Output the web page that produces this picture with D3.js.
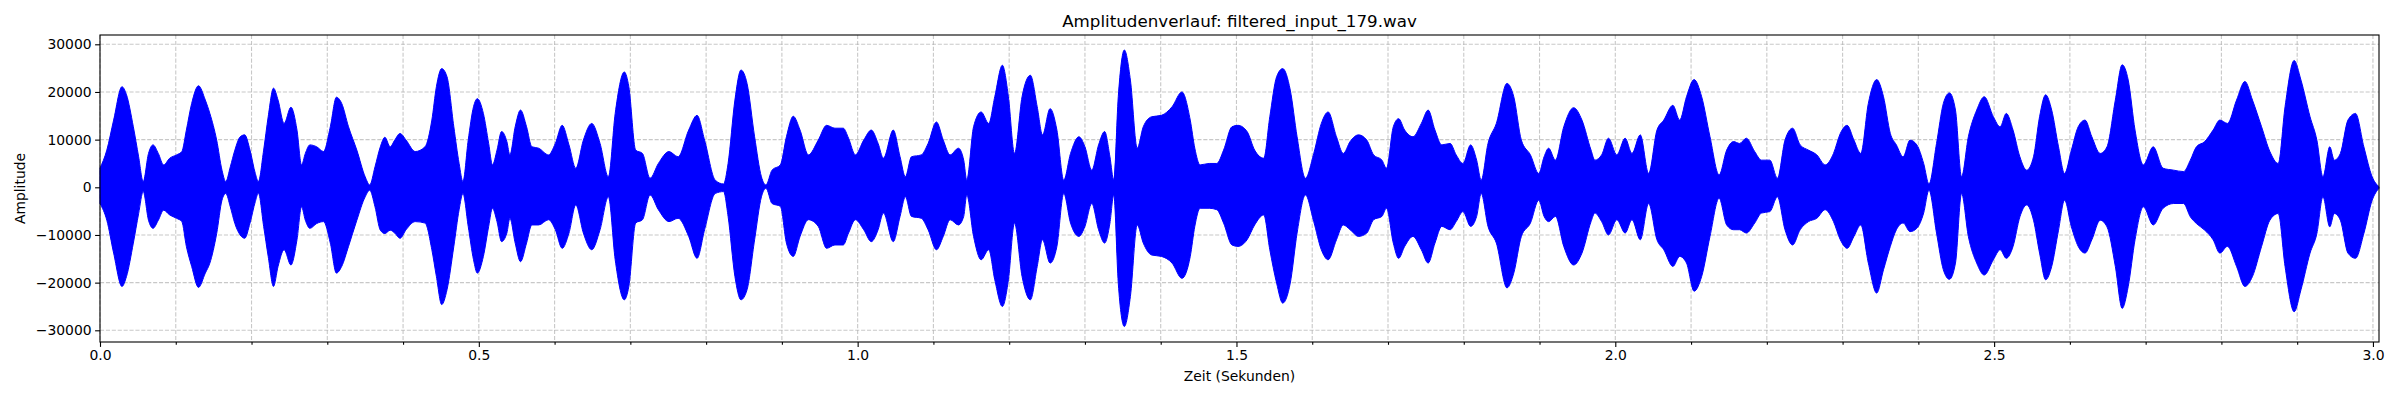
<!DOCTYPE html>
<html>
<head>
<meta charset="utf-8">
<script src="https://cdnjs.cloudflare.com/ajax/libs/d3/7.8.5/d3.min.js"></script>
<style>
  body { margin: 0; background: #fff; }
  text { font-family: "DejaVu Sans", sans-serif; fill: #000; }
</style>
</head>
<body>
<script>
// envelope of the waveform (seconds / sample amplitude)
const times = [
  0.000, 0.009, 0.018, 0.029, 0.035, 0.044, 0.051, 0.057, 0.064, 0.070, 0.077, 0.084, 0.092, 0.101, 0.108,
  0.114, 0.121, 0.130, 0.139, 0.145, 0.154, 0.161, 0.166, 0.172, 0.178, 0.185, 0.191, 0.198, 0.205, 0.209,
  0.216, 0.222, 0.229, 0.235, 0.243, 0.252, 0.260, 0.266, 0.271, 0.277, 0.286, 0.295, 0.304, 0.312, 0.319,
  0.328, 0.339, 0.350, 0.356, 0.363, 0.370, 0.376, 0.383, 0.389, 0.396, 0.404, 0.416, 0.429, 0.438, 0.444,
  0.451, 0.458, 0.467, 0.474, 0.479, 0.486, 0.493, 0.498, 0.506, 0.513, 0.518, 0.524, 0.530, 0.537, 0.541,
  0.548, 0.555, 0.563, 0.570, 0.579, 0.592, 0.601, 0.610, 0.619, 0.628, 0.638, 0.649, 0.660, 0.671, 0.680,
  0.692, 0.698, 0.707, 0.716, 0.726, 0.737, 0.751, 0.763, 0.777, 0.788, 0.798, 0.812, 0.823, 0.829, 0.838,
  0.846, 0.854, 0.864, 0.873, 0.879, 0.887, 0.898, 0.906, 0.915, 0.924, 0.935, 0.948, 0.959, 0.970, 0.981,
  0.988, 0.997, 1.008, 1.018, 1.027, 1.034, 1.047, 1.056, 1.063, 1.071, 1.084, 1.093, 1.104, 1.113, 1.122,
  1.133, 1.140, 1.144, 1.153, 1.163, 1.173, 1.181, 1.191, 1.199, 1.207, 1.217, 1.228, 1.237, 1.244, 1.254,
  1.263, 1.272, 1.281, 1.292, 1.300, 1.309, 1.318, 1.326, 1.333, 1.338, 1.344, 1.352, 1.360, 1.369, 1.377,
  1.388, 1.401, 1.415, 1.428, 1.439, 1.445, 1.452, 1.464, 1.474, 1.483, 1.494, 1.502, 1.514, 1.524, 1.536,
  1.544, 1.553, 1.561, 1.571, 1.580, 1.591, 1.602, 1.612, 1.621, 1.632, 1.641, 1.650, 1.661, 1.672, 1.681,
  1.692, 1.698, 1.707, 1.714, 1.722, 1.733, 1.744, 1.753, 1.762, 1.771, 1.782, 1.790, 1.799, 1.809, 1.817,
  1.823, 1.832, 1.843, 1.857, 1.866, 1.876, 1.888, 1.899, 1.906, 1.912, 1.921, 1.932, 1.945, 1.956, 1.968,
  1.973, 1.982, 1.991, 2.002, 2.013, 2.022, 2.033, 2.044, 2.055, 2.064, 2.076, 2.085, 2.094, 2.104, 2.114,
  2.125, 2.137, 2.147, 2.156, 2.164, 2.173, 2.184, 2.193, 2.204, 2.214, 2.224, 2.234, 2.244, 2.255, 2.266,
  2.277, 2.288, 2.297, 2.306, 2.315, 2.324, 2.334, 2.345, 2.354, 2.363, 2.371, 2.380, 2.389, 2.398, 2.407,
  2.414, 2.424, 2.433, 2.441, 2.449, 2.457, 2.466, 2.477, 2.487, 2.499, 2.508, 2.516, 2.525, 2.534, 2.543,
  2.552, 2.560, 2.568, 2.576, 2.585, 2.593, 2.602, 2.611, 2.620, 2.629, 2.640, 2.649, 2.660, 2.669, 2.677,
  2.686, 2.697, 2.710, 2.723, 2.737, 2.750, 2.759, 2.767, 2.778, 2.789, 2.798, 2.808, 2.820, 2.831, 2.841,
  2.853, 2.864, 2.875, 2.884, 2.896, 2.905, 2.917, 2.926, 2.934, 2.943, 2.949, 2.957, 2.967, 2.977, 2.988,
  2.999, 3.008
];
const upper = [
  4000, 7800, 14100, 21100, 19400, 12700, 6400, 1200, 7100, 8900, 7100, 4700, 6100, 6800, 7500,
  12000, 17600, 21300, 18300, 15500, 9900, 3600, 1200, 4300, 7800, 10600, 11000, 7800, 2900, 1200,
  7800, 14800, 20800, 18300, 13400, 16800, 12000, 4700, 7100, 8900, 8500, 7500, 12700, 18900, 17600,
  12700, 7800, 2200, 500, 4300, 8500, 10500, 8500, 9900, 11300, 9900, 7500, 8500, 14100, 21100,
  24900, 23200, 12700, 5000, 1200, 9900, 16900, 18600, 15500, 9200, 4700, 7800, 11700, 9600, 6800,
  12700, 16200, 12700, 8500, 8200, 6800, 9200, 13000, 8900, 4000, 9900, 13400, 9200, 2200, 15500,
  24200, 21100, 7800, 7100, 1900, 5000, 7500, 6400, 12000, 15100, 9900, 1500, 700, 5000, 18300,
  24600, 21800, 10600, 2200, 500, 3600, 4700, 10600, 14900, 12000, 6800, 9900, 13000, 12400, 12400,
  10300, 6800, 9900, 12000, 9200, 6100, 12000, 6400, 2200, 6400, 6800, 9200, 13700, 9900, 6800,
  8200, 5700, 1500, 12700, 15800, 13400, 19000, 25600, 19000, 7100, 19000, 23500, 16900, 11000, 16500,
  12000, 1500, 7100, 10600, 8500, 3600, 8900, 11700, 6400, 1500, 19000, 28800, 22500, 8200, 12700,
  14800, 15100, 16900, 20000, 14100, 8200, 4700, 5000, 5000, 7800, 12700, 13000, 11700, 7800, 6100,
  14800, 23200, 24900, 20400, 10600, 1900, 7100, 13400, 15800, 10600, 7100, 9600, 11000, 9900, 6800,
  5700, 4000, 12700, 14400, 12000, 10600, 13400, 16200, 12000, 8900, 9200, 6800, 5000, 8900, 5700,
  1500, 9200, 13400, 21800, 19000, 9900, 6800, 2900, 6400, 8200, 5700, 12700, 16700, 14100, 7800,
  5700, 6800, 10300, 6800, 10300, 7100, 11000, 2900, 12000, 14100, 17200, 14100, 19000, 22600, 19000,
  10600, 2600, 7800, 9600, 9200, 10300, 7500, 5700, 5700, 1900, 9900, 12400, 8900, 7800, 6800,
  4700, 7100, 11300, 13000, 9900, 7100, 17600, 22600, 19000, 11300, 8900, 6400, 9900, 8900, 5000,
  700, 9200, 17600, 19800, 16200, 2200, 10600, 16200, 19000, 14800, 12700, 15500, 12000, 6400, 3600,
  6400, 14800, 19400, 16200, 8500, 2900, 7800, 12700, 14100, 10600, 7100, 8500, 18300, 25700, 22500,
  12000, 4700, 8500, 4000, 3600, 3300, 5700, 8500, 9600, 12000, 14100, 13400, 18300, 22200, 18300,
  12700, 7500, 5000, 16900, 26600, 22500, 14800, 9900, 2200, 8500, 5700, 7100, 14100, 15500, 8500,
  2200, 100
];
const lower = [
  -3400, -6900, -13800, -20800, -18700, -11700, -5500, -900, -6900, -8600, -6900, -4800, -5800, -6500, -7200,
  -12400, -16600, -21000, -18000, -15900, -9700, -2700, -1300, -4100, -7600, -10000, -10700, -7500, -3000, -1200,
  -8200, -14500, -20800, -16600, -13100, -16300, -11000, -4100, -6900, -8600, -7600, -7200, -11700, -18000, -16600,
  -12400, -6900, -2000, -600, -4100, -9000, -9700, -9000, -9600, -10700, -8900, -7200, -7500, -13100, -18700,
  -24600, -21500, -12400, -4700, -1300, -8200, -15200, -18000, -14500, -8200, -4400, -7200, -11400, -9600, -6500,
  -11700, -15600, -11700, -7900, -7900, -6800, -8900, -12800, -9600, -3700, -9600, -13100, -8900, -2000, -15200,
  -23600, -20800, -7500, -6800, -1600, -4700, -7200, -6500, -10300, -14900, -8900, -1300, -900, -6100, -18700,
  -23600, -21500, -11000, -2000, -200, -3400, -4000, -11700, -14500, -10300, -6800, -8200, -12800, -12100, -12100,
  -9600, -6800, -8900, -11400, -8900, -5400, -11400, -6100, -2000, -6100, -6500, -8900, -13100, -10300, -6800,
  -7900, -6100, -1600, -10300, -15200, -13100, -19400, -25000, -19400, -7500, -18700, -23600, -16600, -11000, -15900,
  -12400, -1300, -7500, -10300, -8200, -3400, -8900, -11700, -7500, -1600, -20100, -29200, -22900, -7900, -11700,
  -14200, -14500, -15900, -19100, -14500, -8200, -4400, -4400, -4700, -7500, -12100, -12400, -11000, -7900, -5800,
  -13100, -20100, -24300, -20100, -9600, -1600, -7200, -13100, -15200, -11000, -7900, -8900, -10300, -9600, -6800,
  -6100, -4400, -11700, -14900, -12400, -10300, -13100, -15900, -11700, -8200, -8900, -7200, -5100, -8200, -6100,
  -1300, -8200, -11700, -21100, -18000, -10300, -7500, -2700, -6100, -7200, -6100, -12400, -16300, -13800, -7200,
  -5400, -7200, -10000, -6800, -9600, -6800, -11000, -3400, -11000, -13100, -16600, -14500, -15900, -21800, -18700,
  -10300, -2300, -7900, -8900, -8900, -9600, -7500, -5400, -5100, -2000, -8900, -12100, -8900, -7200, -6500,
  -4700, -7200, -11000, -12800, -10300, -7900, -15900, -22200, -17300, -12400, -8900, -7500, -9300, -8600, -5400,
  -600, -9600, -17300, -19300, -15900, -1300, -10300, -15900, -18400, -15200, -13100, -14900, -12400, -6200, -3700,
  -6900, -13800, -19400, -16600, -9000, -2700, -8300, -12400, -13800, -11000, -6900, -8300, -16600, -25400, -20800,
  -11000, -4100, -7900, -4400, -3400, -3400, -6200, -7600, -9000, -11000, -13800, -12400, -16600, -20800, -18700,
  -12400, -6900, -5500, -16600, -26100, -21500, -13800, -9700, -2000, -8300, -5500, -6900, -13800, -14900, -9700,
  -2700, -200
];
const xMajorTicks = [0.0, 0.5, 1.0, 1.5, 2.0, 2.5, 3.0];
const xMinorTicks = [0.1, 0.2, 0.3, 0.4, 0.6, 0.7, 0.8, 0.9, 1.1, 1.2, 1.3, 1.4, 1.6, 1.7, 1.8, 1.9,
                     2.1, 2.2, 2.3, 2.4, 2.6, 2.7, 2.8, 2.9];
const yTicks = [-30000, -20000, -10000, 0, 10000, 20000, 30000];

const titleText = 'Amplitudenverlauf: filtered_input_179.wav';
const xLabelText = 'Zeit (Sekunden)';
const yLabelText = 'Amplitude';

// canvas
let width = 2400;
let height = 400;
let margin = {left: 100, right: 21, top: 35, bottom: 58};
let plotW = width - margin.left - margin.right;
let plotH = height - margin.top - margin.bottom;

let svg = d3.select('body').append('svg')
  .attr('width', width)
  .attr('height', height);

let x = d3.scaleLinear().domain([0, 3.008]).range([margin.left, margin.left + plotW]);
let y = d3.scaleLinear().domain([-32454, 31951]).range([margin.top + plotH, margin.top]);

// grid (major + minor on x, major on y)
let grid = svg.append('g')
  .attr('stroke', '#b0b0b0')
  .attr('stroke-opacity', 0.7)
  .attr('stroke-width', 1.1)
  .attr('stroke-dasharray', '4.1,1.8');

grid.selectAll('.gx')
  .data(xMajorTicks.concat(xMinorTicks))
  .enter()
  .append('line')
  .attr('x1', d => x(d)).attr('x2', d => x(d))
  .attr('y1', margin.top).attr('y2', margin.top + plotH);

grid.selectAll('.gy')
  .data(yTicks)
  .enter()
  .append('line')
  .attr('x1', margin.left).attr('x2', margin.left + plotW)
  .attr('y1', d => y(d)).attr('y2', d => y(d));

// waveform envelope
let wave = times.map((t, i) => ({t: t, hi: upper[i], lo: lower[i]}));
let area = d3.area()
  .x(d => x(d.t))
  .y0(d => y(d.lo))
  .y1(d => y(d.hi))
  .curve(d3.curveMonotoneX);

svg.append('path')
  .datum(wave)
  .attr('d', area)
  .attr('fill', '#0000ff')
  .attr('stroke', '#0000ff')
  .attr('stroke-width', 1);

// axes
let fmtY = d => d < 0 ? '\u2212' + Math.abs(d) : String(d);

let xAxis = svg.append('g')
  .attr('transform', `translate(0,${margin.top + plotH})`)
  .call(d3.axisBottom(x).tickValues(xMajorTicks).tickFormat(d3.format('.1f'))
    .tickSizeInner(4.9).tickSizeOuter(0).tickPadding(3.5));

let xMinor = svg.append('g')
  .attr('transform', `translate(0,${margin.top + plotH})`)
  .call(d3.axisBottom(x).tickValues(xMinorTicks).tickFormat('')
    .tickSizeInner(2.8).tickSizeOuter(0));
xMinor.select('.domain').remove();

let yAxis = svg.append('g')
  .attr('transform', `translate(${margin.left},0)`)
  .call(d3.axisLeft(y).tickValues(yTicks).tickFormat(fmtY)
    .tickSizeInner(4.9).tickSizeOuter(0).tickPadding(3.5));

[xAxis, xMinor, yAxis].forEach(g => {
  g.attr('font-family', '"DejaVu Sans", sans-serif').attr('font-size', 13.9);
  g.selectAll('line').attr('stroke', '#000').attr('stroke-width', 1.1);
  g.selectAll('.domain').remove();
});

// frame
svg.append('rect')
  .attr('x', margin.left).attr('y', margin.top)
  .attr('width', plotW).attr('height', plotH)
  .attr('fill', 'none')
  .attr('stroke', '#000')
  .attr('stroke-width', 1.1);

// labels
svg.append('text')
  .attr('x', margin.left + plotW / 2)
  .attr('y', 26.7)
  .attr('text-anchor', 'middle')
  .style('font-size', '16.7px')
  .text(titleText);

svg.append('text')
  .attr('x', margin.left + plotW / 2)
  .attr('y', 381)
  .attr('text-anchor', 'middle')
  .style('font-size', '13.9px')
  .text(xLabelText);

svg.append('text')
  .attr('transform', `translate(24.5,${margin.top + plotH / 2}) rotate(-90)`)
  .attr('text-anchor', 'middle')
  .style('font-size', '13.9px')
  .text(yLabelText);
</script>
</body>
</html>
